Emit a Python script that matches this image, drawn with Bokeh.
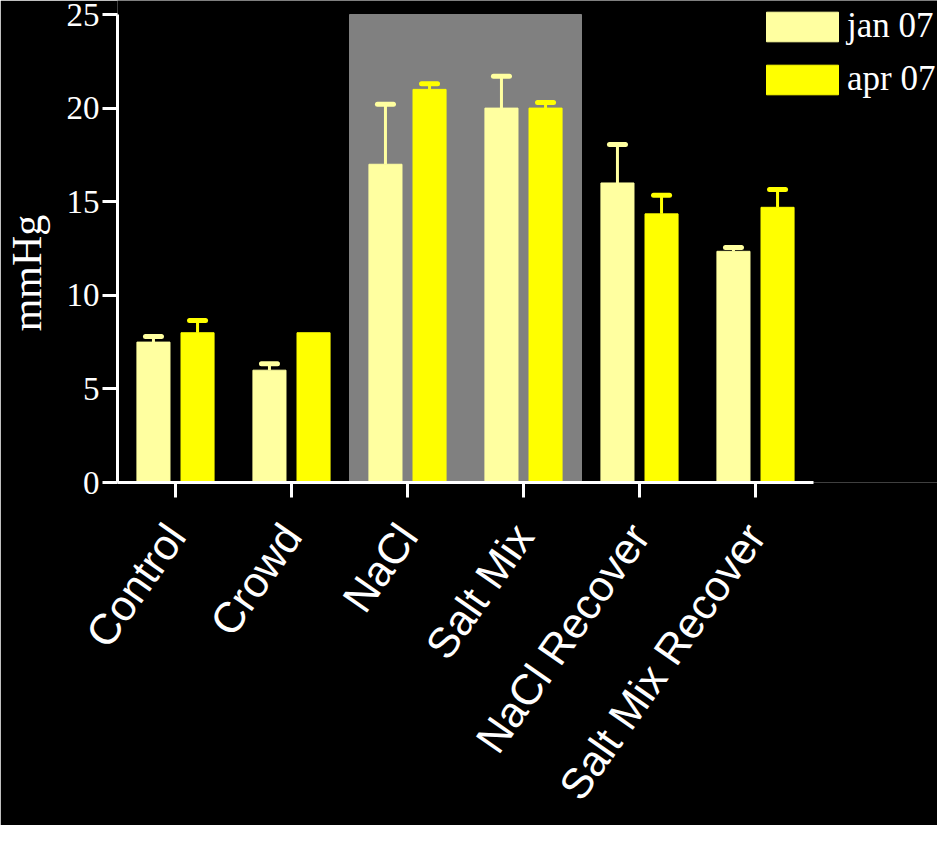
from bokeh.plotting import figure
from bokeh.models import (ColumnDataSource, Whisker, TeeHead, Legend, LegendItem,
                          Range1d, FixedTicker)
from bokeh.transform import dodge
from bokeh.embed import file_html
from bokeh.resources import INLINE

# ---- data ----
categories = ["Control", "Crowd", "NaCl", "Salt Mix", "NaCl Recover", "Salt Mix Recover"]
series = ["jan 07", "apr 07"]
jan_values = [7.5, 6.0, 17.0, 20.0, 16.0, 12.35]
jan_errors = [0.3, 0.35, 3.2, 1.7, 2.05, 0.2]
apr_values = [8.0, 8.0, 21.0, 20.0, 14.35, 14.7]
apr_errors = [0.65, 0.0, 0.3, 0.3, 1.0, 0.95]
highlight_start = ["NaCl"]
highlight_end = ["Salt Mix"]
y_ticks = [0, 5, 10, 15, 20, 25]
y_label = "mmHg"

# ---- styles / layout ----
JAN_COLOR = "#FFFFA0"
APR_COLOR = "#FFFF00"
BOX_COLOR = "#808080"
SERIF = "Liberation Serif"
SANS = "Liberation Sans"
OFFSET = 0.19
BAR_W = 0.285

n = len(categories)
centers = [i + 0.5 for i in range(n)]
PX_PER_CAT = 116.0
PX_PER_UNIT = 18.72
FRAME_W = 820
FRAME_H = 482

p = figure(x_range=Range1d(0, FRAME_W / PX_PER_CAT),
           y_range=Range1d(0, FRAME_H / PX_PER_UNIT),
           frame_width=FRAME_W, frame_height=FRAME_H,
           min_border_left=108, min_border_right=0,
           min_border_top=0, min_border_bottom=343,
           output_backend="svg", toolbar_location=None,
           background_fill_color="black", border_fill_color="black",
           outline_line_color=None)

# highlighted region
hl = ColumnDataSource(dict(left=[categories.index(s) for s in highlight_start],
                           right=[categories.index(e) + 1 for e in highlight_end],
                           top=[y_ticks[-1]], bottom=[y_ticks[0]]))
p.quad(left="left", right="right", top="top", bottom="bottom", source=hl,
       fill_color=BOX_COLOR, line_color=BOX_COLOR)

src = ColumnDataSource(dict(x=centers, jan=jan_values, apr=apr_values))
r_jan = p.vbar(x=dodge("x", -OFFSET), top="jan", width=BAR_W,
               source=src, fill_color=JAN_COLOR, line_color=JAN_COLOR)
r_apr = p.vbar(x=dodge("x", OFFSET), top="apr", width=BAR_W,
               source=src, fill_color=APR_COLOR, line_color=APR_COLOR)

def add_whiskers(vals, errs, offset, color):
    keep = [i for i, e in enumerate(errs) if e > 0]
    ws = ColumnDataSource(dict(x=[centers[i] for i in keep],
                               lower=[vals[i] for i in keep],
                               upper=[vals[i] + errs[i] for i in keep]))
    w = Whisker(base=dodge("x", offset), lower="lower", upper="upper",
                source=ws, dimension="height", line_color=color, line_width=3,
                upper_head=TeeHead(size=16, line_width=5, line_color=color, line_cap="round"),
                lower_head=None, level="annotation")
    p.add_layout(w)

add_whiskers(jan_values, jan_errors, -OFFSET, JAN_COLOR)
add_whiskers(apr_values, apr_errors, OFFSET, APR_COLOR)

# axes
p.xgrid.grid_line_color = None
p.ygrid.grid_line_color = None
for ax in (p.xaxis[0], p.yaxis[0]):
    ax.axis_line_color = "white"
    ax.axis_line_width = 3
    ax.major_tick_line_color = "white"
    ax.major_tick_line_width = 3
    ax.major_tick_out = 15
    ax.major_tick_in = 0
    ax.minor_tick_line_color = None
    ax.major_label_text_color = "white"

p.xaxis.bounds = (0, n)
p.xaxis.ticker = FixedTicker(ticks=centers)
p.xaxis.major_label_overrides = {c: cat for c, cat in zip(centers, categories)}
p.xaxis.major_label_text_font = SANS
p.xaxis.major_label_text_font_size = "43px"
p.xaxis.major_label_orientation = 0.96
p.xaxis.major_label_standoff = 31

p.yaxis.bounds = (y_ticks[0], y_ticks[-1])
p.yaxis.ticker = FixedTicker(ticks=y_ticks)
p.yaxis.major_label_text_font = SERIF
p.yaxis.major_label_text_font_size = "33px"
p.yaxis.major_label_standoff = 3
# trailing no-break spaces shift the centred label down, as in the original
p.yaxis.axis_label = y_label + "\u00a0" * 6
p.yaxis.axis_label_text_font = SERIF
p.yaxis.axis_label_text_font_size = "42px"
p.yaxis.axis_label_text_font_style = "normal"
p.yaxis.axis_label_text_color = "white"
p.yaxis.axis_label_standoff = 14

legend = Legend(items=[LegendItem(label=series[0], renderers=[r_jan]),
                       LegendItem(label=series[1], renderers=[r_apr])],
                location=(640, 381),
                label_text_font=SERIF, label_text_font_size="35px",
                label_text_color="white",
                glyph_width=90, glyph_height=37, label_height=44,
                label_standoff=0, spacing=9, padding=0, margin=0,
                background_fill_alpha=0, border_line_alpha=0)
p.add_layout(legend)

open("out.html", "w").write(file_html(p, INLINE))
